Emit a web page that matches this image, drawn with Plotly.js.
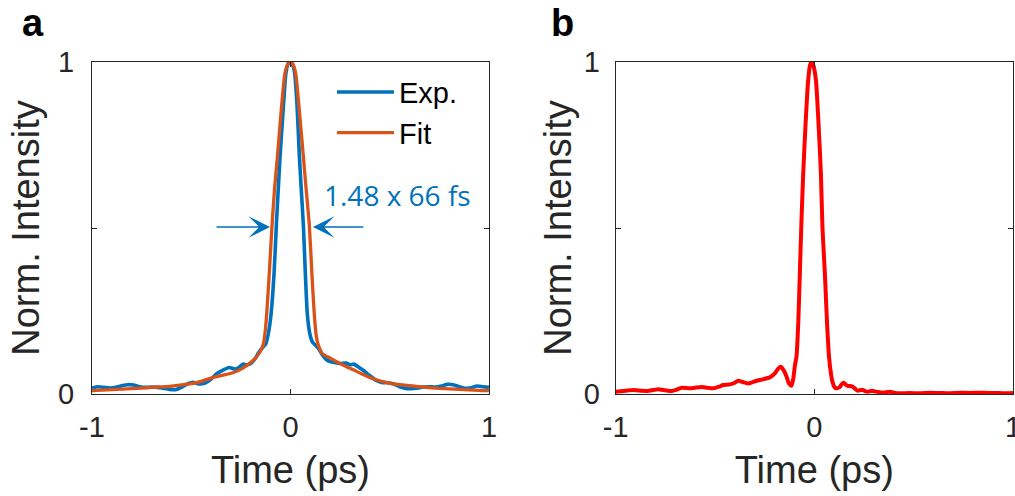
<!DOCTYPE html>
<html>
<head>
<meta charset="utf-8">
<script src="https://cdn.plot.ly/plotly-3.0.1.min.js"></script>
<style>html,body{margin:0;padding:0;background:#fff;}#chart{width:1015px;height:496px;}</style>
</head>
<body>
<div id="chart"></div>
<script>
// ---- Data ----
const expTime = [-1.00,-0.97,-0.94,-0.91,-0.88,-0.85,-0.82,-0.79,-0.76,-0.73,-0.70,-0.67,-0.64,-0.61,-0.58,-0.55,-0.52,-0.49,-0.46,-0.43,-0.40,
  -0.37,-0.34,-0.31,-0.28,-0.26,-0.24,-0.22,-0.20,-0.18,-0.16,-0.14,-0.125,-0.112,-0.098,-0.083,-0.071,-0.053,-0.036,-0.023,-0.012,0,
  0.010,0.021,0.033,0.045,0.056,0.065,0.075,0.085,0.098,0.112,0.125,0.14,0.16,0.18,0.20,0.22,0.25,0.28,0.30,0.32,0.34,
  0.37,0.40,0.43,0.46,0.49,0.52,0.55,0.58,0.61,0.64,0.67,0.70,0.73,0.76,0.79,0.82,0.85,0.88,0.91,0.94,0.97,1.00];
const expIntensity = [0.018,0.022,0.020,0.018,0.020,0.025,0.028,0.027,0.022,0.020,0.021,0.020,0.017,0.014,0.013,0.020,0.030,0.035,0.030,0.033,0.045,
  0.062,0.072,0.080,0.075,0.080,0.090,0.088,0.092,0.105,0.125,0.140,0.150,0.18,0.24,0.36,0.51,0.71,0.865,0.966,0.995,1.0,
  0.993,0.966,0.87,0.714,0.60,0.508,0.362,0.24,0.18,0.155,0.148,0.138,0.118,0.104,0.098,0.095,0.092,0.093,0.088,0.090,0.082,
  0.070,0.055,0.042,0.035,0.034,0.030,0.022,0.017,0.016,0.018,0.021,0.022,0.021,0.024,0.029,0.028,0.022,0.017,0.019,0.024,0.022,0.020];

const fitTime = [-1.00,-0.90,-0.80,-0.70,-0.60,-0.50,-0.45,-0.39,-0.34,-0.29,-0.24,-0.19,-0.155,-0.137,-0.128,-0.12,-0.107,-0.093,-0.080,-0.066,
  -0.045,-0.028,-0.014,0,0.013,0.026,0.043,0.065,0.080,0.095,0.108,0.12,0.13,0.14,0.16,0.20,0.24,0.28,0.32,0.36,
  0.42,0.48,0.55,0.65,0.75,0.85,0.95,1.00];
const fitIntensity = [0.010,0.013,0.016,0.020,0.024,0.031,0.038,0.050,0.057,0.064,0.078,0.100,0.125,0.150,0.185,0.24,0.362,0.508,0.62,0.714,
  0.865,0.966,0.993,1.0,0.993,0.966,0.865,0.714,0.61,0.508,0.362,0.24,0.175,0.148,0.122,0.108,0.095,0.083,0.072,0.060,
  0.045,0.035,0.028,0.022,0.017,0.014,0.011,0.010];

const pulseTime = [-1.00,-0.95,-0.91,-0.87,-0.84,-0.81,-0.786,-0.75,-0.718,-0.69,-0.668,-0.626,-0.60,-0.567,-0.54,-0.509,-0.48,-0.459,-0.425,-0.40,
  -0.383,-0.36,-0.333,-0.31,-0.291,-0.26,-0.224,-0.199,-0.18,-0.169,-0.155,-0.14,-0.128,-0.115,-0.105,-0.098,-0.090,-0.081,-0.073,-0.066,
  -0.056,-0.044,-0.031,-0.022,-0.014,-0.005,0.008,0.021,0.033,0.041,0.053,0.064,0.074,0.084,0.092,0.102,0.112,0.128,0.138,0.148,
  0.158,0.170,0.182,0.195,0.208,0.22,0.232,0.245,0.258,0.27,0.283,0.295,0.32,0.346,0.38,0.40,0.43,0.48,0.53,0.58,
  0.63,0.68,0.73,0.78,0.83,0.88,0.93,0.97,1.00];
const pulseIntensity = [0.007,0.010,0.012,0.010,0.009,0.012,0.014,0.011,0.009,0.014,0.019,0.017,0.019,0.021,0.019,0.017,0.022,0.027,0.029,0.034,
  0.040,0.036,0.032,0.036,0.040,0.044,0.050,0.062,0.078,0.082,0.072,0.053,0.032,0.025,0.050,0.085,0.112,0.213,0.363,0.50,
  0.664,0.815,0.945,0.99,1.0,0.99,0.945,0.815,0.664,0.50,0.363,0.213,0.112,0.060,0.035,0.020,0.017,0.021,0.030,0.034,
  0.028,0.024,0.024,0.021,0.014,0.010,0.012,0.012,0.008,0.007,0.009,0.009,0.006,0.004,0.007,0.004,0.002,0.003,0.002,0.004,
  0.003,0.002,0.004,0.003,0.004,0.003,0.003,0.002,0.003];

const xTickVals = [-1, 0, 1];
const xTickText = ['-1', '0', '1'];
const yTickVals = [0, 0.5, 1];
const yTickText = ['0', '', '1'];
const widthLabel = '1.48 x 66 fs';

// ---- Styling ----
const AX = '#262626';
const BLUE = '#0072BD', ORANGE = '#D95319', RED = '#FF0000';
const FONT = 'Liberation Sans, Arial, Helvetica, sans-serif';

const traces = [
  {x: expTime, y: expIntensity, name: 'Exp.', type: 'scatter', mode: 'lines',
   line: {color: BLUE, width: 3.6, shape: 'spline', smoothing: 0.6}, xaxis: 'x', yaxis: 'y'},
  {x: fitTime, y: fitIntensity, name: 'Fit', type: 'scatter', mode: 'lines',
   line: {color: ORANGE, width: 3.3, shape: 'spline', smoothing: 0.6}, xaxis: 'x', yaxis: 'y'},
  {x: pulseTime, y: pulseIntensity, name: 'Pulse', type: 'scatter', mode: 'lines', showlegend: false,
   line: {color: RED, width: 4, shape: 'spline', smoothing: 0.6}, xaxis: 'x2', yaxis: 'y2'}
];

function xAxis(domain, anchor) {
  return {domain: domain, anchor: anchor, range: [-1, 1], tickvals: xTickVals, ticktext: xTickText,
    ticks: 'inside', ticklen: 5, tickwidth: 1, tickcolor: AX, showline: true, linecolor: AX, linewidth: 1,
    mirror: 'ticks', showgrid: false, zeroline: false, fixedrange: true, ticklabelstandoff: 7,
    ticklabeloverflow: 'allow',
    tickfont: {family: FONT, size: 29, color: AX},
    title: {text: 'Time (ps)', font: {family: FONT, size: 38, color: AX}, standoff: 14}};
}
function yAxis(anchor, labelStandoff, titleStandoff) {
  return {domain: [0, 1], anchor: anchor, range: [0, 1], tickvals: yTickVals, ticktext: yTickText,
    ticks: 'inside', ticklen: 5, tickwidth: 1, tickcolor: AX, showline: true, linecolor: AX, linewidth: 1,
    mirror: 'ticks', showgrid: false, zeroline: false, fixedrange: true, ticklabelstandoff: labelStandoff,
    ticklabeloverflow: 'allow',
    tickfont: {family: FONT, size: 29, color: AX},
    title: {text: 'Norm. Intensity', font: {family: FONT, size: 38, color: AX}, standoff: titleStandoff}};
}

const layout = {
  width: 1015, height: 496,
  margin: {l: 92, r: 2, t: 62, b: 102},
  paper_bgcolor: '#fff', plot_bgcolor: '#fff',
  showlegend: true,
  legend: {x: 0.2606, y: 0.986, xanchor: 'left', yanchor: 'top', bgcolor: 'rgba(0,0,0,0)', borderwidth: 0,
    font: {family: FONT, size: 29, color: '#000'}, itemwidth: 57, tracegroupgap: 0},
  xaxis: xAxis([0, 0.4310], 'y'),
  yaxis: yAxis('x', 11, 6),
  xaxis2: xAxis([0.5686, 1], 'y2'),
  yaxis2: yAxis('x2', 9, 0),
  annotations: [
    {xref: 'paper', yref: 'paper', x: -0.064, y: 1.1175, text: '<b>a</b>', showarrow: false,
     xanchor: 'center', yanchor: 'middle', font: {family: FONT, size: 38, color: '#000'}},
    {xref: 'paper', yref: 'paper', x: 0.5114, y: 1.1175, text: '<b>b</b>', showarrow: false,
     xanchor: 'center', yanchor: 'middle', font: {family: FONT, size: 38, color: '#000'}},
    {xref: 'x', yref: 'y', x: 0.54, y: 0.60, text: widthLabel, showarrow: false,
     xanchor: 'center', yanchor: 'middle', font: {family: 'Open Sans, sans-serif', size: 28, color: BLUE}},
    {xref: 'x', yref: 'y', x: -0.103, y: 0.503, axref: 'x', ayref: 'y', ax: -0.38, ay: 0.503, text: '',
     showarrow: true, arrowhead: 3, arrowsize: 2.4, arrowwidth: 1.5, arrowcolor: BLUE},
    {xref: 'x', yref: 'y', x: 0.113, y: 0.503, axref: 'x', ayref: 'y', ax: 0.375, ay: 0.503, text: '',
     showarrow: true, arrowhead: 3, arrowsize: 2.4, arrowwidth: 1.5, arrowcolor: BLUE}
  ]
};

Plotly.newPlot('chart', traces, layout, {displayModeBar: false, staticPlot: true});
</script>
</body>
</html>
